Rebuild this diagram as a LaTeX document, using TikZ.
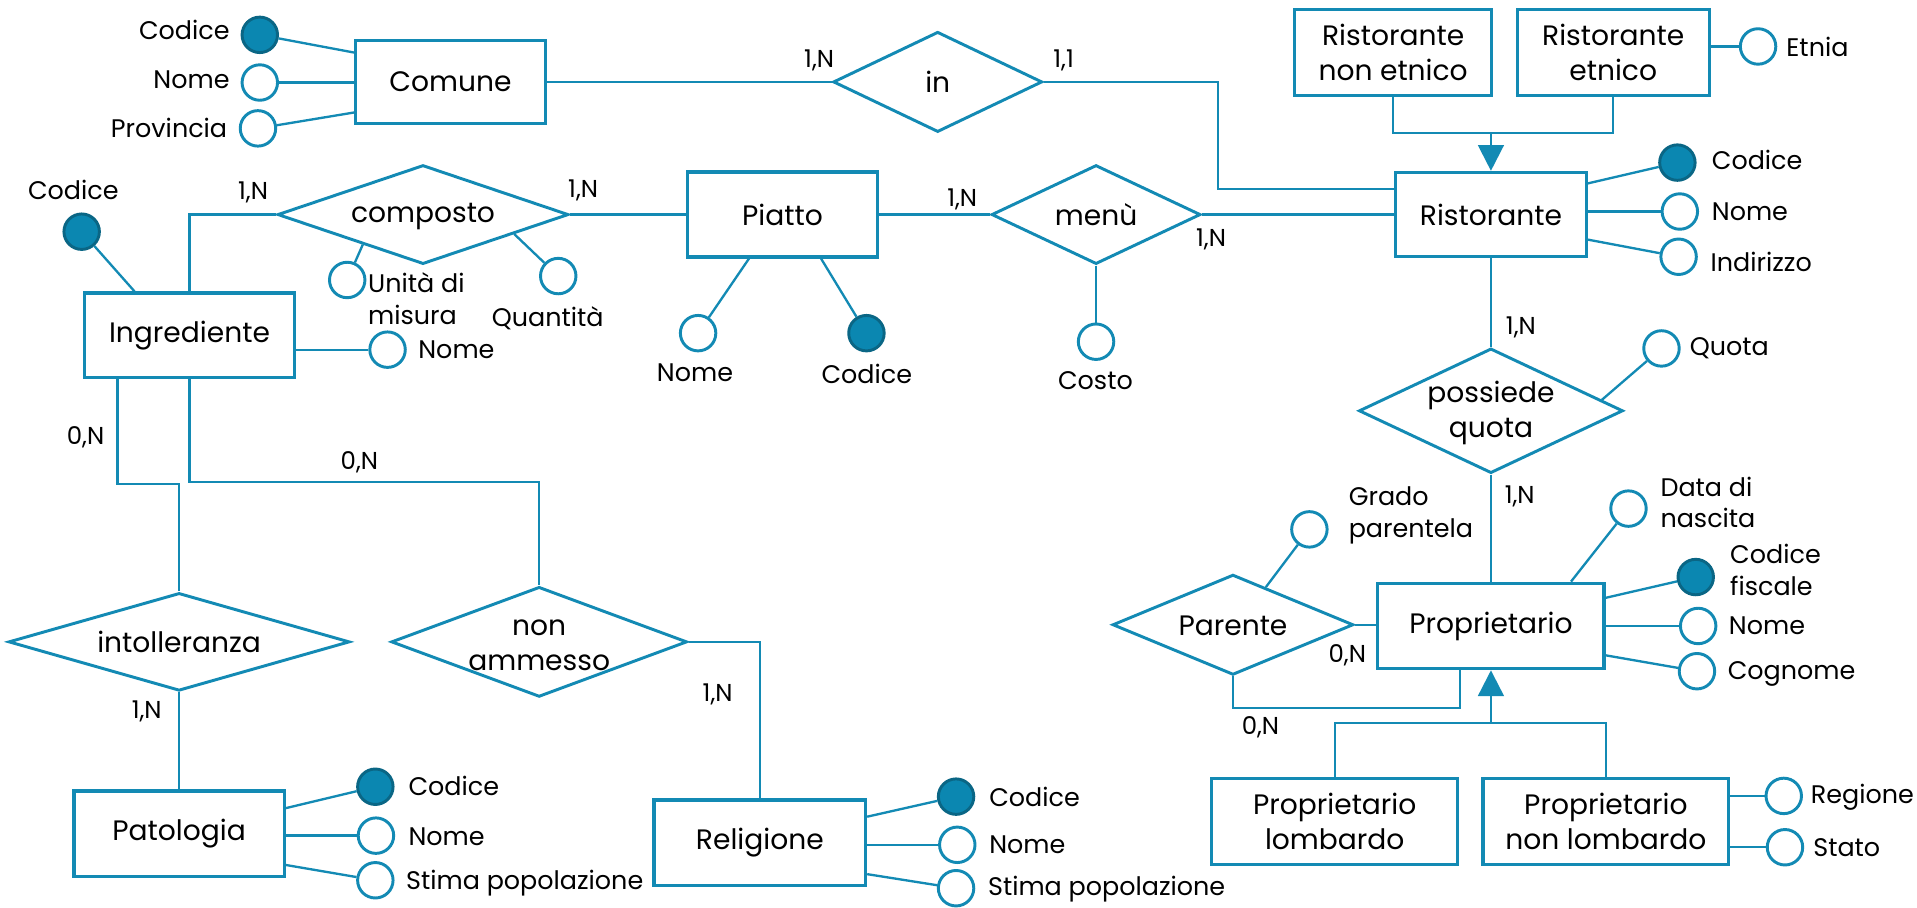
\documentclass[tikz,border=0pt]{standalone}
\usepackage{fontspec}
\setmainfont{Poppins}
\usetikzlibrary{shapes.geometric,arrows.meta,calc}
\definecolor{erblue}{HTML}{138AB4}
\definecolor{keyfill}{HTML}{0B87B1}
\definecolor{keydraw}{HTML}{0A6685}
\newcommand\fsent{\fontsize{23}{28.6}\selectfont}
\newcommand\fsattr{\fontsize{20.8}{26}\selectfont}
\newcommand\fscard{\fontsize{20}{22}\selectfont}
\begin{document}
\begin{tikzpicture}[x=1pt,y=-1pt,
  ent/.style={draw=erblue, line width=2.6pt, rectangle, inner sep=0pt, font=\fsent, align=center},
  rel/.style={draw=erblue, line width=2.4pt, diamond, inner sep=0pt},
  rellbl/.style={font=\fsent, align=center, inner sep=0pt},
  attr/.style={draw=erblue, line width=2.4pt, circle, minimum size=29pt, inner sep=0pt, fill=white},
  keyattr/.style={draw=keydraw, line width=2.4pt, circle, minimum size=29pt, inner sep=0pt, fill=keyfill},
  conn/.style={draw=erblue, line width=1.9pt},
  lbl/.style={font=\fsattr, inner sep=0pt, align=left},
  clbl/.style={font=\fsattr, inner sep=0pt, align=center},
  card/.style={font=\fscard, inner sep=0pt},
  gen/.style={draw=erblue, line width=1.9pt, -{Triangle[length=21pt,width=21pt]}, fill=erblue},
]
\fill[white] (0,0) rectangle (1568,742);
\useasboundingbox (0,0) rectangle (1568,742);

% ---------- entities ----------
\node[ent, minimum width=155pt, minimum height=68pt] (comune) at (368.5,67) {Comune};
\node[ent, minimum width=156pt, minimum height=69pt] (ristorante) at (1219.5,175.5) {Ristorante};
\node[ent, minimum width=161pt, minimum height=70pt] (rne) at (1139.5,43) {Ristorante\\non etnico};
\node[ent, minimum width=157pt, minimum height=70pt] (re) at (1319.5,43) {Ristorante\\etnico};
\node[ent, minimum width=156pt, minimum height=69.5pt] (piatto) at (640,175.5) {Piatto};
\node[ent, minimum width=172pt, minimum height=69.4pt] (ingrediente) at (155,274.3) {Ingrediente};
\node[ent, minimum width=172pt, minimum height=70pt] (patologia) at (146.5,682) {Patologia};
\node[ent, minimum width=173pt, minimum height=70pt] (religione) at (621.5,689.4) {Religione};
\node[ent, minimum width=185pt, minimum height=70pt] (proprietario) at (1219.5,512) {Proprietario};
\node[ent, minimum width=201pt, minimum height=70pt] (plomb) at (1091.75,672) {Proprietario\\lombardo};
\node[ent, minimum width=201pt, minimum height=70pt] (pnlomb) at (1313.5,672) {Proprietario\\non lombardo};

% ---------- relationships ----------
\node[rel, minimum width=171pt, minimum height=82pt] (in) at (767,67) {};
\node[rellbl] at (in) {in};
\node[rel, minimum width=171pt, minimum height=81pt] (menu) at (896.5,175.5) {};
\node[rellbl] at (menu) {menù};
\node[rel, minimum width=238pt, minimum height=81pt] (composto) at (346,175.5) {};
\node[rellbl] at (346,177) {composto};
\node[rel, minimum width=216pt, minimum height=102pt] (possiede) at (1219.5,336) {};
\node[rellbl] at (1219.5,338) {possiede\\quota};
\node[rel, minimum width=197pt, minimum height=82pt] (parente) at (1008.5,511) {};
\node[rellbl] at (1008.5,512) {Parente};
\node[rel, minimum width=279pt, minimum height=80pt] (intolleranza) at (146.5,525) {};
\node[rellbl] at (intolleranza) {intolleranza};
\node[rel, minimum width=242pt, minimum height=90pt] (nonammesso) at (441,525) {};
\node[rellbl] at (441,528) {non\\ammesso};

% ---------- attributes ----------
% Comune
\node[keyattr] (comcod) at (212.5,28.5) {};
\node[attr] (comnome) at (212.5,67.5) {};
\node[attr] (comprov) at (211,105) {};
\node[lbl, anchor=east] at (188,24.5) {Codice};
\node[lbl, anchor=east] at (188,65.5) {Nome};
\node[lbl, anchor=east] at (186,105) {Provincia};
\draw[conn] (comcod) -- ([yshift=24pt]comune.west);
\draw[conn] (comnome) -- (comnome -| comune.west);
\draw[conn] (comprov) -- ([yshift=-25pt]comune.west);

% Ristorante
\node[keyattr] (ristcod) at (1372,133) {};
\node[attr] (ristnome) at (1374,173) {};
\node[attr] (ristind) at (1373,210) {};
\node[lbl, anchor=west] at (1400,131) {Codice};
\node[lbl, anchor=west] at (1400,173) {Nome};
\node[lbl, anchor=west] at (1399,214) {Indirizzo};
\draw[conn] (ristcod) -- ([yshift=25.5pt]ristorante.east);
\draw[conn] (ristnome) -- (ristnome -| ristorante.east);
\draw[conn] (ristind) -- ([yshift=-20.5pt]ristorante.east);

% Ristorante etnico
\node[attr] (etnia) at (1438,38) {};
\node[lbl, anchor=west] at (1461,38) {Etnia};
\draw[conn] (etnia) -- (etnia -| re.east);

% possiede quota
\node[attr] (quota) at (1359,285) {};
\node[lbl, anchor=west] at (1382,285) {Quota};
\draw[conn] (quota) -- ($(possiede.north)!0.83!(possiede.east)$);

% Proprietario
\node[attr] (pdata) at (1332,416) {};
\node[lbl, anchor=west] at (1358,411) {Data di\\nascita};
\draw[conn] (pdata) -- ([xshift=65.5pt]proprietario.north);
\node[keyattr] (pcf) at (1387,472) {};
\node[lbl, anchor=west] at (1415,466) {Codice\\fiscale};
\draw[conn] (pcf) -- ([yshift=23pt]proprietario.east);
\node[attr] (pnome) at (1389,512) {};
\node[lbl, anchor=west] at (1414,512) {Nome};
\draw[conn] (pnome) -- (pnome -| proprietario.east);
\node[attr] (pcogn) at (1388,549) {};
\node[lbl, anchor=west] at (1413,551) {Cognome};
\draw[conn] (pcogn) -- ([yshift=-24pt]proprietario.east);

% Parente
\node[attr] (grado) at (1071,433) {};
\node[lbl, anchor=west] at (1103,421.5) {Grado\\parentela};
\draw[conn] (grado) -- ($(parente.north)!0.27!(parente.east)$);

% Piatto
\node[attr] (pinome) at (571,272.5) {};
\node[clbl] at (568.5,305) {Nome};
\draw[conn] (pinome) -- ([xshift=-27.4pt]piatto.south);
\node[keyattr] (picod) at (708.7,272.5) {};
\node[clbl] at (709,306) {Codice};
\draw[conn] (picod) -- ([xshift=31.6pt]piatto.south);

% menu
\node[attr] (costo) at (896.5,279.5) {};
\node[clbl] at (896,311.5) {Costo};
\draw[conn] (menu.south) -- (costo);

% composto
\node[attr] (unita) at (284,229) {};
\node[lbl, anchor=west] at (301,244) {Unità di\\misura};
\draw[conn] (unita) -- ($(composto.west)!0.59!(composto.south)$);
\node[attr] (quant) at (456.6,225.8) {};
\node[clbl] at (448,260) {Quantità};
\draw[conn] (quant) -- ($(composto.east)!0.38!(composto.south)$);

% Ingrediente
\node[keyattr] (ingcod) at (66.8,189.5) {};
\node[clbl] at (60,155.4) {Codice};
\draw[conn] (ingcod) -- ([xshift=-45pt]ingrediente.north);
\node[attr] (ingnome) at (317,286) {};
\node[lbl, anchor=west] at (342,286) {Nome};
\draw[conn] (ingnome) -- (ingnome -| ingrediente.east);

% Patologia
\node[keyattr] (patcod) at (307,643.5) {};
\node[attr] (patnome) at (307.5,683.5) {};
\node[attr] (patstima) at (307,720) {};
\node[lbl, anchor=west] at (334,643) {Codice};
\node[lbl, anchor=west] at (334,684) {Nome};
\node[lbl, anchor=west] at (332,722) {Stima popolazione};
\draw[conn] (patcod) -- ([yshift=21pt]patologia.east);
\draw[conn] (patnome) -- (patnome -| patologia.east);
\draw[conn] (patstima) -- ([yshift=-25.5pt]patologia.east);

% Religione
\node[keyattr] (relcod) at (782,651.6) {};
\node[attr] (relnome) at (783,691) {};
\node[attr] (relstima) at (782,726.5) {};
\node[lbl, anchor=west] at (809,652) {Codice};
\node[lbl, anchor=west] at (809,691) {Nome};
\node[lbl, anchor=west] at (808,727) {Stima popolazione};
\draw[conn] (relcod) -- ([yshift=21.4pt]religione.east);
\draw[conn] (relnome) -- (relnome -| religione.east);
\draw[conn] (relstima) -- ([yshift=-25.6pt]religione.east);

% Proprietario non lombardo
\node[attr] (regione) at (1459,651) {};
\node[attr] (stato) at (1460,693) {};
\node[lbl, anchor=west] at (1481,652) {Regione};
\node[lbl, anchor=west] at (1483,693) {Stato};
\draw[conn] (regione) -- (regione -| pnlomb.east);
\draw[conn] (stato) -- (stato -| pnlomb.east);

% ---------- connectors ----------
\draw[conn] (comune.east) -- (in.west);
\node[card] at (670,49) {1,N};
\coordinate (inbend) at (996,154.5);
\draw[conn] (in.east) -| (inbend) -- (inbend -| ristorante.west);
\node[card] at (870,49) {1,1};

\draw[conn] (piatto.east) -- (menu.west);
\node[card] at (787,163.5) {1,N};
\draw[conn] (menu.east) -- (ristorante.west);
\node[card] at (990.6,196) {1,N};

\draw[conn] (composto.east) -- (piatto.west);
\node[card] at (477,155.5) {1,N};
\draw[conn] (composto.west) -| (ingrediente.north);
\node[card] at (207,157) {1,N};

\coordinate (ib) at (96,396);
\draw[conn] (ib |- ingrediente.south) -- (ib) -| (intolleranza.north);
\node[card] at (70,358) {0,N};
\coordinate (nb) at (155,394.5);
\draw[conn] (ingrediente.south) -- (nb) -| (nonammesso.north);
\node[card] at (294,378) {0,N};

\draw[conn] (intolleranza.south) -- (patologia.north);
\node[card] at (120,582) {1,N};
\draw[conn] (nonammesso.east) -| (religione.north);
\node[card] at (587,567.6) {1,N};

\draw[conn] (ristorante.south) -- (possiede.north);
\node[card] at (1244,268) {1,N};
\draw[conn] (possiede.south) -- (proprietario.north);
\node[card] at (1243,406) {1,N};

\draw[conn] (parente.east) -- (parente.east -| proprietario.west);
\node[card] at (1102,536) {0,N};
\coordinate (pb) at (1194,579);
\draw[conn] (parente.south) |- (pb) -- (pb |- proprietario.south);
\node[card] at (1031,594.5) {0,N};

% generalizations
\coordinate (g1) at (1219.5,109);
\draw[conn] (rne.south) |- (g1) -| (re.south);
\draw[gen] (g1) -- (ristorante.north);
\coordinate (g2) at (1219.5,591.5);
\draw[conn] (plomb.north) |- (g2) -| (pnlomb.north);
\draw[gen] (g2) -- (proprietario.south);
\end{tikzpicture}
\end{document}
